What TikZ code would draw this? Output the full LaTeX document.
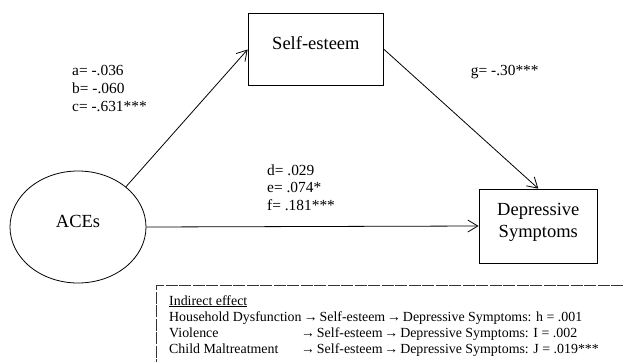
\documentclass[tikz,border=0pt]{standalone}
\usepackage{fontspec}
\setmainfont{Liberation Serif}
\usetikzlibrary{arrows.meta,shapes.geometric,calc}
\newcommand\myrarr{\kern-1.6pt→\kern-1.6pt}
\begin{document}
\begin{tikzpicture}[x=1pt,y=-1pt,
  boxnode/.style={draw, line width=0.8pt, inner sep=0pt},
  boxtext/.style={font=\fontsize{18.5}{24}\selectfont, align=center, inner sep=0pt},
  coef/.style={font=\fontsize{15.4}{18.3}\selectfont, anchor=base west, inner sep=0pt},
  note/.style={font=\fontsize{13.9}{16}\selectfont, anchor=base west, inner sep=0pt},
  notebox/.style={line width=0.8pt, draw=black!80, dash pattern=on 12pt off 1.5pt},
  conn/.style={line width=0.8pt, -{Straight Barb[length=10pt,width=12pt,line width=0.8pt]}}]
\useasboundingbox (0,0) rectangle (623,362);
% boxes
\node[boxnode, minimum width=135.7pt, minimum height=72.4pt] (se) at (315.9,49.5) {};
\node[boxtext, anchor=base] (setext) at (315.9,49.3) {Self-esteem};
\node[boxnode, minimum width=118.7pt, minimum height=74pt] (dep) at (538.3,226) {};
\node[boxtext, anchor=base] (deptext1) at (538.3,215) {Depressive};
\node[boxtext, anchor=base] (deptext2) at (538.3,237.3) {Symptoms};
\node[boxnode, ellipse, minimum width=136pt, minimum height=112pt] (aces) at (78,227) {};
\node[boxtext, anchor=base] (acestext) at (78,227.7) {ACEs};
% connectors
\draw[conn] (aces.40) -- (se.west);
\draw[conn] (se.east) -- (dep.north);
\draw[conn] (aces.east) -- (dep.west);
% coefficients
\node[coef] (la) at (72,75) {a= -.036};
\node[coef] (lb) at (72,93.3) {b= -.060};
\node[coef] (lc) at (72,111.7) {c= -.631***};
\node[coef] (ld) at (267,175.7) {d= .029};
\node[coef] (le) at (267,192.7) {e= .074*};
\node[coef] (lf) at (267,210.7) {f= .181***};
\node[coef] (lg) at (470.7,75) {g= -.30***};
% note box
\coordinate (nb) at (156.7,285.3);
\coordinate (nr) at (623,285.3);
\coordinate (nl) at (156.7,362);
\draw[notebox] (nr) -- (nb) -- (nl);
\node[note] (ie) at (169,305) {\underline{Indirect effect}};
\node[note] (hd) at (169,321.7) {Household Dysfunction};
\node[note] (hdr) at ($(hd.base east)+(3.5,0)$) {\myrarr{} Self-esteem \myrarr{} Depressive Symptoms: h = .001};
\node[note] (vi) at (169,337.3) {Violence};
\node[note] (vir) at ($(hdr.base west |- vi.base)+(-2.7,0)$) {\myrarr{} Self-esteem \myrarr{} Depressive Symptoms: I = .002};
\node[note] (cm) at (169,353.3) {Child Maltreatment};
\node[note] (cmr) at ($(hdr.base west |- cm.base)+(-2.7,0)$) {\myrarr{} Self-esteem \myrarr{} Depressive Symptoms: J = .019***};
\end{tikzpicture}
\end{document}
